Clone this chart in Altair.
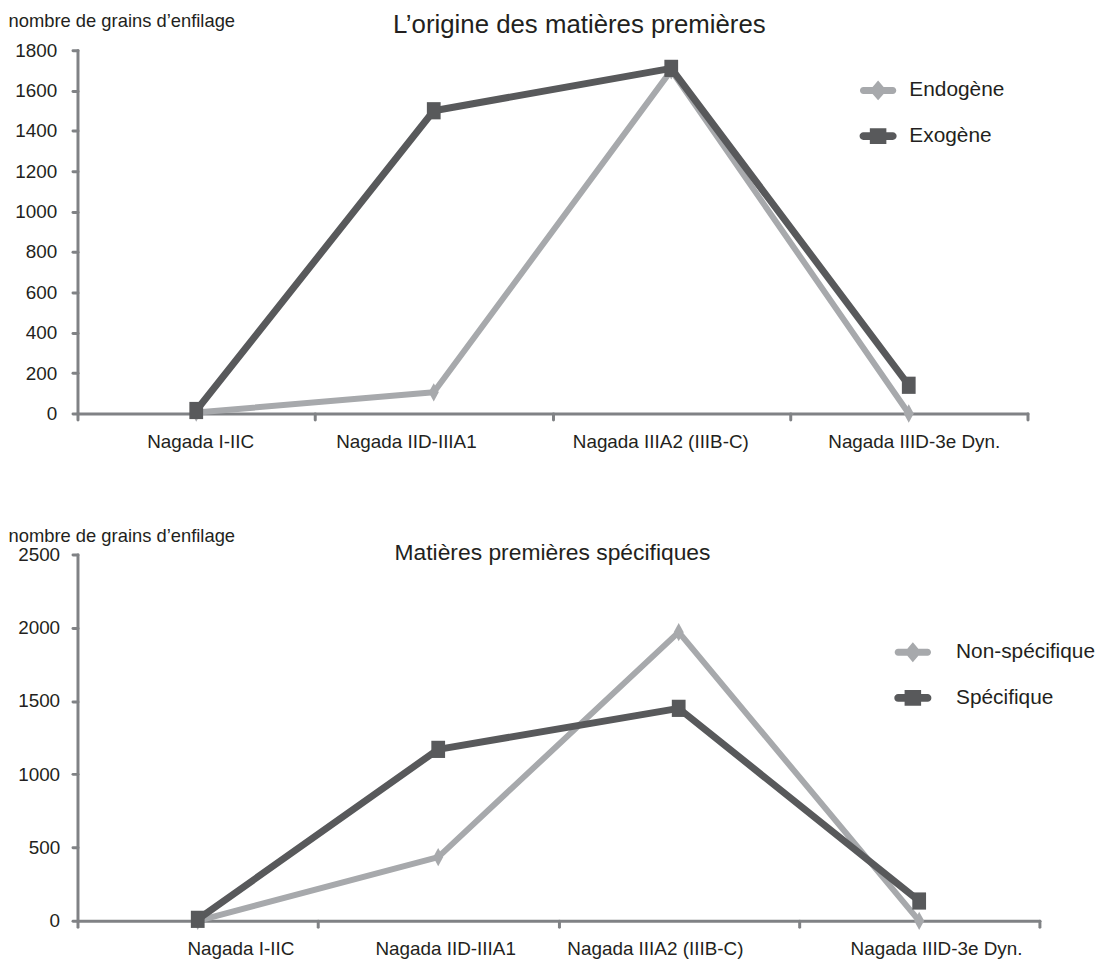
import altair as alt
import pandas as pd

# ---------------- data ----------------
periods = ["Nagada I-IIC", "Nagada IID-IIIA1", "Nagada IIIA2 (IIIB-C)", "Nagada IIID-3e Dyn."]
y_title = "nombre de grains d’enfilage"

top_title = "L’origine des matières premières"
top_series = ["Endogène", "Exogène"]
endogene = [5, 105, 1700, 0]
exogene = [15, 1500, 1710, 140]
top_ticks = [0, 200, 400, 600, 800, 1000, 1200, 1400, 1600, 1800]

bottom_title = "Matières premières spécifiques"
bottom_series = ["Non-spécifique", "Spécifique"]
non_specifique = [0, 435, 1970, 0]
specifique = [10, 1170, 1450, 135]
bottom_ticks = [0, 500, 1000, 1500, 2000, 2500]

# ---------------- style ----------------
LIGHT = "#a7a9ac"
DARK = "#58595b"
AXIS = "#808285"
TEXT = "#231f20"
FONT = "Liberation Sans"

DIAMOND = "M0,-1L0.55,0L0,1L-0.55,0Z"
RECT = "M-0.8,-1L0.8,-1L0.8,1L-0.8,1Z"
LEG_LIGHT = ("M-0.8,-0.19L-0.3,-0.19L0,-0.54L0.3,-0.19L0.8,-0.19"
             "A0.19,0.19 0 0 1 0.8,0.19L0.3,0.19L0,0.54L-0.3,0.19L-0.8,0.19"
             "A0.19,0.19 0 0 1 -0.8,-0.19Z")
LEG_DARK = ("M-0.8,-0.21L-0.45,-0.21L-0.45,-0.43L0.45,-0.43L0.45,-0.21L0.8,-0.21"
            "A0.21,0.21 0 0 1 0.8,0.21L0.45,0.21L0.45,0.43L-0.45,0.43L-0.45,0.21L-0.8,0.21"
            "A0.21,0.21 0 0 1 -0.8,-0.21Z")


def label_offset(offsets):
    return {
        "condition": [
            {"test": f"datum.value === '{p}'", "value": o} for p, o in zip(periods, offsets)
        ],
        "value": 0,
    }


def panel(title, title_size, title_dx, title_offset, series, a, b, ticks, width, height,
          x_offsets, ylabel_pad, ytitle_x, ytitle_y, legend_x, legend_y, legend_label_offset):
    df = pd.DataFrame({
        "period": periods + periods,
        "series": [series[0]] * 4 + [series[1]] * 4,
        "value": a + b,
    })
    x = alt.X(
        "period:N", sort=periods,
        scale=alt.Scale(type="band", domain=periods, paddingInner=0, paddingOuter=0),
        axis=alt.Axis(title=None, tickBand="extent", labelAngle=0, labelFontSize=19,
                      labelPadding=13, labelOffset=label_offset(x_offsets), tickSize=6,
                      labelColor=TEXT),
    )
    y = alt.Y(
        "value:Q",
        scale=alt.Scale(domain=[0, ticks[-1]], nice=False, zero=True),
        axis=alt.Axis(values=ticks, format="d", title=y_title, titleAngle=0, titleAlign="left",
                      titleBaseline="alphabetic", titleX=ytitle_x, titleY=ytitle_y,
                      titleFontSize=18.5, titleFontWeight="normal", titleColor=TEXT,
                      labelPadding=ylabel_pad, tickSize=5, grid=False, labelFontSize=19,
                      labelColor=TEXT),
    )
    base = alt.Chart(df).encode(x=x, y=y)

    leg = alt.Legend(title=None, orient="none", legendX=legend_x, legendY=legend_y,
                     symbolSize=1369, symbolStrokeWidth=0, symbolOpacity=1,
                     labelFontSize=21, labelOffset=legend_label_offset, rowPadding=17,
                     padding=0, labelColor=TEXT, labelFont=FONT)
    legend_layer = base.mark_point(filled=True, opacity=0).encode(
        color=alt.Color("series:N", scale=alt.Scale(domain=series, range=[LIGHT, DARK]), legend=leg),
        shape=alt.Shape("series:N", scale=alt.Scale(domain=series, range=[LEG_LIGHT, LEG_DARK]), legend=leg),
    )
    layers = [legend_layer]
    for s, col, shape, size, sw in [(series[0], LIGHT, DIAMOND, 340, 6),
                                    (series[1], DARK, RECT, 300, 7)]:
        sub = base.transform_filter(alt.datum.series == s)
        layers.append(sub.mark_line(color=col, strokeWidth=sw, strokeJoin="round"))
        layers.append(sub.mark_point(filled=True, shape=shape, size=size, color=col,
                                     opacity=1, strokeWidth=0))
    return alt.layer(*layers).properties(
        width=width, height=height,
        title=alt.TitleParams(title, fontSize=title_size, font=FONT, fontWeight="normal",
                              color=TEXT, anchor="middle", frame="group", dx=title_dx,
                              offset=title_offset),
    )


top = panel(top_title, 26, 27, -27, top_series, endogene, exogene, top_ticks, 957, 366,
            [4, -28, -11, 5], 16, -70, -24, 788, 22, 13)
bottom = panel(bottom_title, 23, -6, -39, bottom_series, non_specifique, specifique, bottom_ticks,
               969, 369, [43, 7, -24, 17], 13, -70, -13, 823, 80, 25)

chart = alt.vconcat(top, bottom, spacing=76).resolve_scale(
    color="independent", shape="independent"
).properties(
    padding={"top": 0, "left": 0, "right": 0, "bottom": 0}
).configure_axis(
    domainColor=AXIS, domainWidth=3, tickColor=AXIS, tickWidth=3,
    labelFont=FONT, titleFont=FONT, domainCap="round", tickCap="round",
).configure_view(stroke=None)

chart.save("out.html", embed_options={"renderer": "svg", "actions": False})
